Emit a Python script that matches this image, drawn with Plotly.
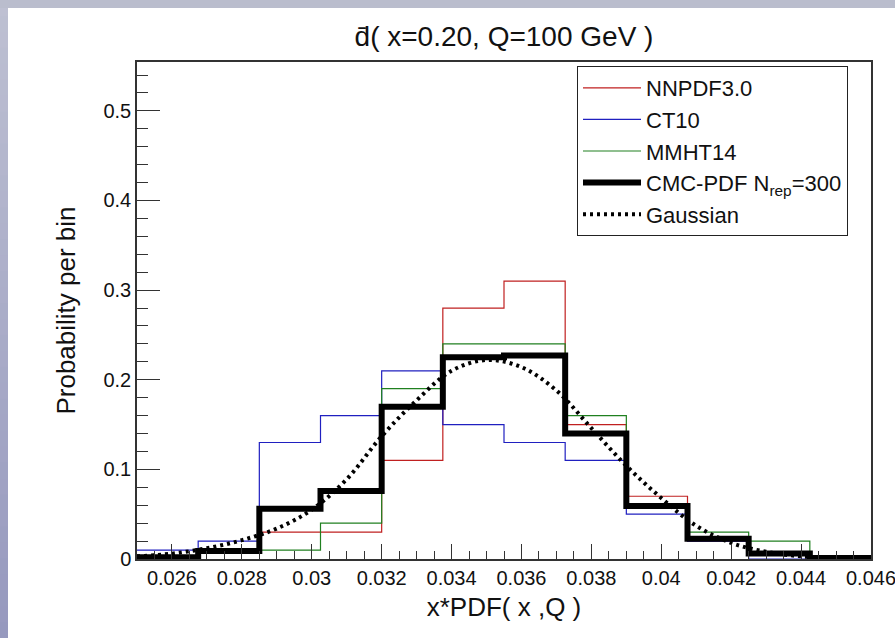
import plotly.graph_objects as go

# ---------------- data ----------------
bin_edges = [0.025, 0.02675, 0.0285, 0.03025, 0.032, 0.03375, 0.0355,
             0.03725, 0.039, 0.04075, 0.0425, 0.04425, 0.046]
nnpdf = [0.0, 0.01, 0.03, 0.03, 0.11, 0.28, 0.31, 0.15, 0.07, 0.02, 0.005, 0.0]
ct10 = [0.01, 0.02, 0.13, 0.16, 0.21, 0.15, 0.13, 0.11, 0.05, 0.02, 0.0, 0.0]
mmht = [0.0, 0.01, 0.01, 0.04, 0.19, 0.24, 0.24, 0.16, 0.06, 0.03, 0.02, 0.0]
cmc = [0.002, 0.009, 0.056, 0.076, 0.170, 0.225, 0.227, 0.140, 0.059, 0.0225, 0.006, 0.001]

gauss_x = [0.025, 0.026, 0.027, 0.028, 0.029, 0.030, 0.031, 0.032, 0.033, 0.034, 0.035,
           0.036, 0.037, 0.038, 0.039, 0.040, 0.041, 0.042, 0.043, 0.044, 0.045, 0.046]
gauss_y = [0.003, 0.006, 0.012, 0.021, 0.034, 0.055, 0.089, 0.137, 0.177, 0.210, 0.222,
           0.214, 0.188, 0.146, 0.104, 0.068, 0.037, 0.018, 0.008, 0.003, 0.001, 0.0003]

series = [
    ("NNPDF3.0", nnpdf, "#c02020", 1.2),
    ("CT10", ct10, "#2020c0", 1.2),
    ("MMHT14", mmht, "#208020", 1.2),
]

W, H = 895, 638
ML, MR, MT, MB = 137, 24, 62, 79

fig = go.Figure()


def step_y(vals):
    return list(vals) + [vals[-1]]


for name, vals, color, lw in series:
    fig.add_trace(go.Scatter(
        x=bin_edges, y=step_y(vals), mode="lines", name=name,
        line=dict(color=color, width=lw, shape="hv"),
    ))

fig.add_trace(go.Scatter(
    x=bin_edges, y=step_y(cmc), mode="lines", name="CMC-PDF N<sub>rep</sub>=300",
    line=dict(color="black", width=6, shape="hv"),
))

fig.add_trace(go.Scatter(
    x=gauss_x, y=gauss_y, mode="lines", name="Gaussian",
    line=dict(color="black", width=4, dash="3px,4px", shape="spline"),
))

# background strips (slide border)
pw = W - ML - MR
ph = H - MT - MB


def px_to_paper_x(px):
    return (px - ML) / pw


def px_to_paper_y(py):
    return (H - MB - py) / ph


shapes = []
nseg = 40
c_top = (0xbe, 0xc1, 0xd2)
c_bot = (0x96, 0x98, 0xbe)
for i in range(nseg):
    t = (i + 0.5) / nseg
    c = tuple(int(round(c_top[k] + (c_bot[k] - c_top[k]) * t)) for k in range(3))
    shapes.append(dict(type="rect", xref="paper", yref="paper",
                       x0=px_to_paper_x(0), x1=px_to_paper_x(8),
                       y0=px_to_paper_y(H * (i + 1) / nseg + 1), y1=px_to_paper_y(H * i / nseg),
                       fillcolor="rgb(%d,%d,%d)" % c, line=dict(width=0), layer="below"))
shapes.append(dict(type="rect", xref="paper", yref="paper",
                   x0=px_to_paper_x(0), x1=px_to_paper_x(W),
                   y0=px_to_paper_y(8), y1=px_to_paper_y(0),
                   fillcolor="#babdcd", line=dict(width=0), layer="below"))

font = "Liberation Sans, Arial, Helvetica, sans-serif"

fig.update_layout(
    width=W, height=H,
    margin=dict(l=ML, r=MR, t=MT, b=MB, autoexpand=False),
    paper_bgcolor="white", plot_bgcolor="white",
    font=dict(family=font, size=20, color="#111111"),
    title=dict(text="d\u0304( x=0.20, Q=100 GeV )", x=0.5, xref="paper", xanchor="center",
               y=1 - 36 / H, yref="container", yanchor="middle",
               font=dict(size=28, family=font, color="#111111")),
    showlegend=True,
    legend=dict(x=px_to_paper_x(577), y=px_to_paper_y(66), xanchor="left", yanchor="top",
                bordercolor="#222222", borderwidth=1, bgcolor="white",
                font=dict(size=22, family=font, color="#111111"),
                itemwidth=58, tracegroupgap=0),
    shapes=shapes,
    xaxis=dict(range=[0.025, 0.04600001], tick0=0.026, dtick=0.002,
               ticks="inside", ticklen=15, tickwidth=1.2, tickcolor="#333333",
               minor=dict(ticks="inside", ticklen=8, dtick=0.0005, tick0=0.025,
                          tickwidth=1.2, tickcolor="#333333"),
               showline=True, linecolor="#333333", linewidth=1.5, mirror=True,
               showgrid=False, zeroline=False, ticklabeloverflow="allow", automargin=False,
               tickfont=dict(size=20, family=font, color="#111111"),
               title=dict(text="x*PDF( x ,Q )", standoff=10,
                          font=dict(size=26, family=font, color="#111111"))),
    yaxis=dict(range=[0, 0.5545], tick0=0, dtick=0.1,
               ticks="inside", ticklen=23, tickwidth=1.2, tickcolor="#333333",
               minor=dict(ticks="inside", ticklen=11, dtick=0.02, tick0=0,
                          tickwidth=1.2, tickcolor="#333333"),
               showline=True, linecolor="#333333", linewidth=1.5, mirror=True,
               showgrid=False, zeroline=False, automargin=False,
               tickfont=dict(size=20, family=font, color="#111111"),
               title=dict(text="Probability per bin", standoff=20,
                          font=dict(size=26, family=font, color="#111111"))),
)

fig.write_html("out.html")
